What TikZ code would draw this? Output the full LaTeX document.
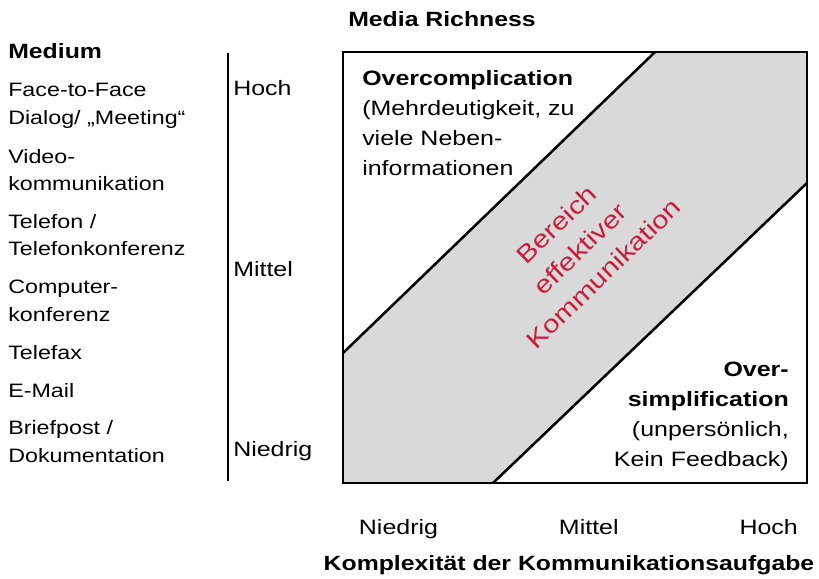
\documentclass[tikz,border=0pt]{standalone}
\usepackage{fontspec}
\setmainfont{Liberation Sans}[FakeStretch=1.2]
\usetikzlibrary{positioning}
\definecolor{bandgray}{RGB}{217,217,217}
\definecolor{effred}{RGB}{200,30,60}
\tikzset{
  lst/.style={anchor=base west, inner sep=0pt, align=left, font=\fontsize{14.55}{20.6}\selectfont},
  lbl/.style={inner sep=0pt, font=\fontsize{15.6}{22.5}\selectfont},
  ttl/.style={inner sep=0pt, font=\fontsize{15.5}{22.5}\selectfont\bfseries},
}
\begin{document}
\begin{tikzpicture}[x=0.75pt, y=-0.75pt]
  \useasboundingbox (0,0) rectangle (819,579);

  % effective band
  \fill[bandgray] (343,353) -- (655,52) -- (807,52) -- (807,183) -- (493,483) -- (343,483) -- cycle;
  \draw[line width=1.9pt] (343,353) -- (655,52);
  \draw[line width=1.9pt] (493,483) -- (807,183);
  \draw[line width=1.9pt] (343,52) rectangle (807,483);
  \draw[line width=2pt] (228,53) -- (228,481);

  \node[ttl, anchor=base] (title) at (442,26.7) {Media Richness};
  \node[ttl, anchor=base west] (medium) at (8,58) {Medium};

  % multi-line nodes: base = last line
  \node[lst] (m1) at (8,124) {Face-to-Face\\Dialog/ „Meeting“};
  \node[lst] (m2) at (8,190.5) {Video-\\kommunikation};
  \node[lst] (m3) at (8,255.7) {Telefon /\\Telefonkonferenz};
  \node[lst] (m4) at (8,321) {Computer-\\konferenz};
  \node[lst] (m5) at (8,359) {Telefax};
  \node[lst] (m6) at (8,397) {E-Mail};
  \node[lst] (m7) at (8,462) {Briefpost /\\Dokumentation};

  \node[lbl, anchor=base west] (yhoch) at (233,95.7) {Hoch};
  \node[lbl, anchor=base west] (ymittel) at (233,276.7) {Mittel};
  \node[lbl, anchor=base west] (yniedrig) at (233,456.7) {Niedrig};

  \node[lbl, anchor=base] (xniedrig) at (398.5,534.5) {Niedrig};
  \node[lbl, anchor=base] (xmittel) at (588.8,534.5) {Mittel};
  \node[lbl, anchor=base] (xhoch) at (768.7,534.5) {Hoch};
  \node[ttl, anchor=base] (xtitle) at (569,570) {Komplexität der Kommunikationsaufgabe};

  \node[lbl, anchor=base west, align=left] (overc) at (362,175.5)
    {\textbf{Overcomplication}\\(Mehrdeutigkeit, zu\\viele Neben-\\informationen};
  \node[lbl, anchor=base east, align=right] (overs) at (789,466)
    {\textbf{Over-}\\\textbf{simplification}\\(unpersönlich,\\Kein Feedback)};

  \node[lbl, text=effred, font=\fontsize{18.4}{25.5}\selectfont, align=center, rotate=44] (eff) at (580,249)
    {Bereich\\effektiver\\Kommunikation};
\end{tikzpicture}
\end{document}
